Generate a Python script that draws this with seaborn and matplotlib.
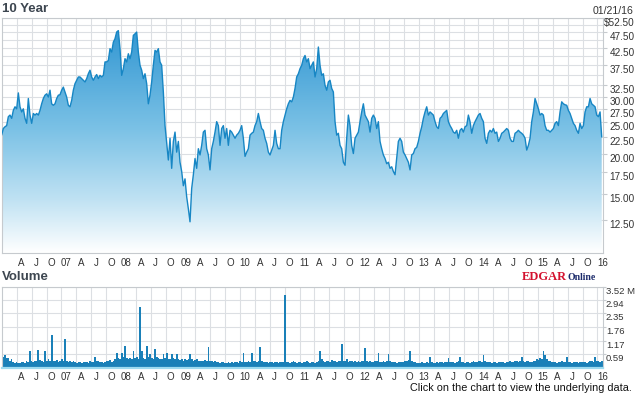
import numpy as np
import pandas as pd
import matplotlib
matplotlib.use('Agg')
import matplotlib.pyplot as plt
import matplotlib.dates as mdates
from matplotlib.colors import LinearSegmentedColormap
from matplotlib.ticker import FixedLocator, NullFormatter
import seaborn as sns

# closing price (roughly every 10 days)
price = [
    22.8, 23.9, 24.2, 24.4, 26.0, 26.3, 25.7, 27.2, 27.9, 27.5,
    30.8, 27.9, 26.9, 27.5, 25.7, 24.8, 29.6, 26.3, 24.8, 26.6,
    26.3, 26.6, 26.3, 27.2, 28.5, 29.6, 30.3, 30.6, 29.9, 31.4,
    28.5, 28.2, 28.5, 29.6, 30.3, 30.4, 31.4, 32.1, 31.0, 29.9,
    28.2, 27.9, 29.2, 31.4, 32.9, 33.7, 34.5, 34.5, 34.1, 33.7,
    33.3, 34.1, 35.3, 36.2, 34.5, 33.7, 34.5, 35.1, 34.1, 34.9,
    34.5, 34.9, 38.4, 38.4, 38.8, 42.2, 41.2, 44.2, 45.3, 47.5,
    48.0, 42.2, 34.9, 36.6, 39.3, 38.4, 40.7, 39.3, 41.2, 46.4,
    46.9, 47.5, 41.2, 37.5, 36.2, 34.1, 35.3, 32.9, 28.5, 30.3,
    33.3, 37.5, 41.7, 41.2, 42.2, 38.4, 37.5, 31.0, 24.4, 21.5,
    19.1, 22.3, 18.0, 21.8, 23.3, 20.2, 21.8, 18.8, 17.6, 15.9,
    16.7, 14.7, 13.5, 12.3, 15.6, 17.2, 19.3, 18.0, 20.7, 19.8,
    21.2, 23.3, 23.6, 20.7, 19.8, 17.8, 20.7, 21.8, 23.3, 25.1,
    24.4, 21.2, 23.9, 24.4, 22.3, 23.9, 21.2, 23.6, 23.3, 22.8,
    22.3, 22.8, 23.1, 23.6, 24.4, 22.3, 19.6, 20.2, 20.7, 22.8,
    23.1, 23.3, 24.4, 25.1, 26.6, 25.1, 23.9, 23.6, 22.3, 21.5,
    20.2, 19.8, 20.5, 21.2, 23.6, 21.5, 20.7, 20.7, 23.6, 25.1,
    26.3, 27.5, 28.5, 29.2, 28.9, 29.9, 31.8, 34.5, 35.3, 36.6,
    37.5, 39.3, 40.2, 38.4, 39.3, 36.6, 37.5, 38.4, 34.5, 36.6,
    42.7, 37.5, 34.9, 35.3, 32.5, 31.4, 33.3, 33.7, 31.8, 31.0,
    25.1, 22.8, 23.1, 21.2, 20.7, 18.8, 18.4, 22.3, 26.3, 24.4,
    21.2, 20.0, 22.3, 22.8, 23.3, 25.1, 26.9, 28.5, 26.3, 25.7,
    25.1, 23.3, 25.7, 26.3, 25.7, 23.9, 25.1, 21.8, 20.7, 19.8,
    19.3, 18.6, 18.8, 18.0, 18.2, 17.6, 17.2, 19.3, 21.8, 22.3,
    21.8, 20.2, 19.8, 19.3, 18.8, 17.8, 19.8, 20.0, 20.7, 20.9,
    21.8, 23.1, 24.2, 25.7, 26.9, 27.9, 26.3, 26.9, 26.6, 26.3,
    25.1, 24.2, 23.9, 25.7, 26.0, 26.6, 26.9, 27.2, 25.1, 24.4,
    23.9, 23.3, 23.1, 23.6, 22.3, 23.6, 23.9, 23.3, 24.2, 24.4,
    26.3, 25.1, 23.1, 24.4, 25.1, 25.7, 26.3, 26.6, 25.7, 25.1,
    22.3, 21.5, 23.1, 23.6, 23.3, 23.9, 23.1, 23.3, 21.8, 22.3,
    23.1, 23.3, 23.6, 23.9, 23.6, 22.3, 21.8, 21.8, 23.1, 23.3,
    23.6, 23.3, 23.1, 22.8, 22.3, 20.5, 21.2, 22.3, 25.1, 26.9,
    29.6, 28.5, 27.5, 26.3, 26.6, 26.3, 24.4, 23.6, 23.6, 23.3,
    23.6, 23.9, 24.8, 25.1, 24.4, 26.9, 28.9, 28.5, 28.3, 28.2,
    27.2, 26.6, 25.7, 24.8, 24.4, 23.6, 23.1, 24.8, 23.9, 24.4,
    26.9, 27.9, 27.9, 29.6, 28.5, 28.2, 27.9, 26.3, 26.0, 26.9,
    22.5,
]

# volume in millions of shares, same dates
volume = [
    .35, .45, .55, .40, .42, .30, .38, .25, .20, .22,
    .18, .20, .22, .25, .20, .28, .22, .70, .30, .25,
    .28, .30, .75, .32, .30, .25, .70, .30, .35, .28,
    1.42, .30, .28, .32, .25, .30, .35, .28, 1.26, .30,
    .25, .28, .22, .30, .25, .20, .22, .25, .20, .24,
    .22, .25, .20, .28, .22, .24, .46, .30, .28, .22,
    .25, .20, .24, .30, .28, .32, .26, .30, .35, .65,
    .40, .38, .65, .45, .94, .40, .38, .42, .35, .70,
    .40, .45, .38, 2.61, .70, .42, .38, .94, .45, .60,
    .40, .38, .82, .45, .42, .35, .38, .60, .40, .62,
    .35, .38, .58, .40, .35, .58, .38, .32, .35, .30,
    .35, .32, .38, .60, .35, .30, .32, .38, .30, .28,
    .30, .28, .32, .30, .87, .30, .28, .25, .30, .22,
    .25, .20, .22, .25, .20, .18, .22, .20, .24, .20,
    .22, .25, .20, .28, .24, .65, .25, .22, .28, .25,
    .65, .30, .28, .25, .30, .87, .30, .25, .22, .25,
    .20, .22, .25, .20, .22, .25, .20, .24, .22, .25,
    3.16, .25, .22, .20, .25, .30, .22, .20, .25, .22,
    .20, .25, .22, .28, .24, .20, .22, .25, .20, .24,
    .30, .70, .35, .30, .25, .28, .30, .25, .32, .28,
    .30, .25, .28, .30, 1.04, .30, .28, .35, .25, .30,
    .28, .25, .30, .22, .28, .25, .30, .28, .84, .30,
    .25, .30, .22, .25, .28, .30, .65, .25, .22, .28,
    .25, .30, .60, .28, .25, .22, .25, .20, .22, .25,
    .22, .25, .28, .30, .32, .73, .28, .25, .22, .20,
    .18, .20, .22, .18, .20, .25, .20, .45, .22, .20,
    .18, .22, .20, .25, .22, .20, .25, .22, .42, .25,
    .22, .25, .20, .22, .28, .45, .25, .22, .20, .24,
    .22, .20, .25, .28, .22, .25, .30, .28, .25, .55,
    .28, .25, .22, .25, .20, .22, .25, .20, .22, .24,
    .22, .25, .20, .22, .25, .28, .22, .25, .28, .30,
    .25, .28, .45, .30, .25, .28, .30, .25, .22, .28,
    .30, .35, .32, .40, .38, .73, .55, .35, .30, .28,
    .25, .22, .25, .20, .22, .25, .28, .22, .25, .45,
    .22, .25, .20, .24, .22, .25, .20, .22, .25, .24,
    .22, .20, .25, .30, .28, .25, .45, .30, .28, .25,
    .30,
]

price_ticks = [12.5, 15, 17.5, 20, 22.5, 25, 27.5, 30, 32.5, 37.5, 42.5, 47.5, 52.5]
price_tick_labels = ['12.50', '15.00', '17.50', '20.00', '22.50', '25.00', '27.50',
                     '30.00', '32.50', '37.50', '42.50', '47.50', '$52.50']
price_minor = [35, 40, 45, 50]
vol_ticks = [0.59, 1.17, 1.76, 2.35, 2.94, 3.52]
vol_tick_labels = ['0.59', '1.17', '1.76', '2.35', '2.94', '3.52 M']
quarter_names = {1: None, 4: 'A', 7: 'J', 10: 'O'}

dates = pd.date_range('2005-11-30', '2015-12-27', periods=len(price))
xnum = mdates.date2num(dates)
label_dates = pd.date_range('2006-04-01', '2016-01-01', freq='QS-JAN')
label_text = [d.strftime('%y') if d.month == 1 else quarter_names[d.month] for d in label_dates]
grid_dates = pd.date_range('2006-03-01', '2015-12-01', freq='QS-MAR')
xlim = mdates.date2num(pd.to_datetime(['2005-11-29', '2016-01-02']))

sns.set_style('white')
plt.rcParams['font.family'] = ['Liberation Sans', 'DejaVu Sans']

grid_c = '#dcdfe3'
edge_c = '#c6cace'
text_c = '#333333'

fig = plt.figure(figsize=(6.35, 3.95), dpi=100)
ax = fig.add_axes([1.5 / 635, 142 / 395, 601.2 / 635, 235 / 395])
ax2 = fig.add_axes([1.5 / 635, 27.5 / 395, 601.2 / 635, 81 / 395])

# ---- price panel ----
ax.set_yscale('log')
sns.lineplot(x=xnum, y=price, ax=ax, color='#1786c4', lw=1.0, zorder=3)
poly = ax.fill_between(xnum, price, 9.85, color='none', lw=0)

# vertical gradient fill under the line
cmap = LinearSegmentedColormap.from_list(
    'fade', [(0, '#ffffff'), (0.2255, '#c0e2f3'), (0.523, '#7cc2e6'), (1, '#2a92d0')])
grad = np.linspace(0, 1, 256).reshape(-1, 1)
im = ax.imshow(grad, extent=[0, 1, 0, 1], transform=ax.transAxes, origin='lower',
               aspect='auto', cmap=cmap, zorder=1, interpolation='bilinear')
im.set_clip_path(poly.get_paths()[0], transform=ax.transData)

ax.set_xlim(*xlim)
ax.set_ylim(9.85, 52.5)

ax.yaxis.tick_right()
ax.set_yticks(price_ticks, price_tick_labels)
ax.yaxis.set_minor_locator(FixedLocator(price_minor))
ax.yaxis.set_minor_formatter(NullFormatter())
ax.tick_params(axis='y', which='major', length=3, width=0.8, color=edge_c, direction='out',
               pad=20, labelsize=7.2, labelcolor=text_c)
ax.tick_params(axis='y', which='minor', length=0)
for lbl in ax.get_yticklabels():
    lbl.set_ha('right')
    lbl.set_va('top')

for a in (ax, ax2):
    a.set_xticks(mdates.date2num(label_dates), label_text)
    a.xaxis.set_minor_locator(FixedLocator(mdates.date2num(grid_dates)))
    a.tick_params(axis='x', which='both', length=0, labelsize=7, labelcolor=text_c)
    a.grid(False)
    a.grid(True, which='minor', axis='x', color=grid_c, lw=0.8)
    a.grid(True, which='both', axis='y', color=grid_c, lw=0.8)
    a.set_axisbelow(True)
    a.set_xlabel('')
    a.set_ylabel('')
    for s in a.spines.values():
        s.set_color(edge_c)
        s.set_linewidth(0.8)
ax.tick_params(axis='x', pad=3.6)

# ---- volume panel ----
ax2.bar(xnum, volume, width=(xnum[1] - xnum[0]), color='#1a80b8', lw=0, zorder=2)
ax2.set_xlim(*xlim)
ax2.set_ylim(0, 3.52)
ax2.yaxis.tick_right()
ax2.set_yticks(vol_ticks, vol_tick_labels)
ax2.tick_params(axis='y', length=2, width=0.8, color=edge_c, direction='out', pad=0.3,
                labelsize=6.8, labelcolor=text_c)
for lbl in ax2.get_yticklabels():
    lbl.set_va('top')
ax2.tick_params(axis='x', pad=3)
ax2.spines['bottom'].set_color('#9edbf0')
ax2.spines['bottom'].set_linewidth(1.6)

# ---- header / footer texts ----
fig.text(2 / 635, 1 - 9.5 / 395, '10 Year', fontsize=9.5, fontweight='bold',
         color='#3d4650', va='center', ha='left')
fig.text(633.5 / 635, 1 - 11 / 395, '01/21/16', fontsize=7.6, color=text_c,
         va='center', ha='right')
fig.text(2 / 635, 1 - 277 / 395, 'Volume', fontsize=9.5, fontweight='bold',
         color='#3d4650', va='center', ha='left')
fig.text(521.5 / 635, 1 - 280.5 / 395, 'EDGAR', fontsize=9, fontweight='bold',
         family='Liberation Serif', color='#d3122f', va='baseline', ha='left')
fig.text(567 / 635, 1 - 280.5 / 395, 'Online', fontsize=7, fontweight='bold',
         family='Liberation Serif', color='#1c2b6b', va='baseline', ha='left')
fig.text(632 / 635, 1 - 388 / 395, 'Click on the chart to view the underlying data.',
         fontsize=7.8, color='#111111', va='center', ha='right')

fig.savefig('out.png', dpi=100)
